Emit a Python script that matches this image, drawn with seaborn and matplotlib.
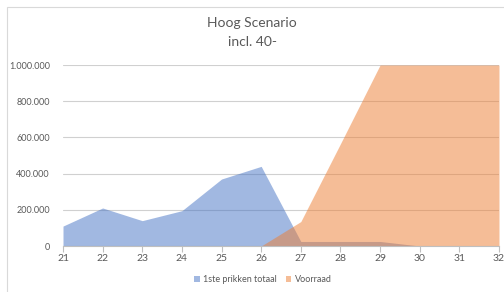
import matplotlib
matplotlib.use('Agg')
import matplotlib.pyplot as plt
import matplotlib.patches as mpatches
from matplotlib.ticker import FuncFormatter
import seaborn as sns
import pandas as pd

weeks = [21, 22, 23, 24, 25, 26, 27, 28, 29, 30, 31, 32]
eerste_prikken = [110000, 210000, 140000, 195000, 370000, 440000,
                  25000, 25000, 25000, 0, 0, 0]
voorraad = [None, None, None, None, None, 0,
            135000, 565000, 1000000, 1000000, 1000000, 1000000]

BLUE = '#4472C4'
ORANGE = '#ED7D31'
GREY = '#595959'


def dutch_thousands(v, _):
    return f'{int(v):,}'.replace(',', '.')


def main():
    df = pd.DataFrame({'week': weeks, '1ste prikken totaal': eerste_prikken,
                       'Voorraad': voorraad})
    sns.set_style('white')
    plt.rcParams['font.family'] = ['Lato', 'DejaVu Sans']

    fig = plt.figure(figsize=(5.04, 2.92), dpi=100)
    fig.patches.append(mpatches.Rectangle((7 / 504, -0.1), 1.2, 1 - 7 / 292 + 0.1,
                                          transform=fig.transFigure, fill=False,
                                          edgecolor='#d9d9d9', linewidth=0.8))
    ax = fig.add_axes([63 / 504, 46 / 292, 436 / 504, 181 / 292])

    blue = df.dropna(subset=['1ste prikken totaal'])
    ax.fill_between(blue['week'], blue['1ste prikken totaal'], color=BLUE,
                    alpha=0.5, linewidth=0, label='1ste prikken totaal')
    orange = df.dropna(subset=['Voorraad'])
    ax.fill_between(orange['week'], orange['Voorraad'].astype(float), color=ORANGE,
                    alpha=0.5, linewidth=0, label='Voorraad')

    ax.set_xlim(21, 32)
    ax.set_ylim(0, 1000000)
    ax.set_xticks(weeks)
    ax.set_yticks(range(0, 1000001, 200000))
    ax.yaxis.set_major_formatter(FuncFormatter(dutch_thousands))
    ax.grid(axis='y', color='#d0d0d0', linewidth=0.8)
    ax.set_axisbelow(True)
    for side in ['top', 'right', 'left']:
        ax.spines[side].set_visible(False)
    ax.spines['bottom'].set_color('#bfbfbf')
    ax.spines['bottom'].set_linewidth(0.8)
    ax.tick_params(axis='x', bottom=True, length=4, width=0.8, color='#bfbfbf',
                   labelsize=7.5, labelcolor=GREY, pad=2)
    ax.tick_params(axis='y', left=False, labelsize=6.5, labelcolor=GREY, pad=6)
    ax.set_xlabel('')
    ax.set_ylabel('')

    fig.text(0.5, 1 - 23 / 292, 'Hoog Scenario', ha='center', va='center',
             fontsize=10, color=GREY)
    fig.text(0.5, 1 - 42 / 292, 'incl. 40-', ha='center', va='center',
             fontsize=10, color=GREY)

    handles, labels = ax.get_legend_handles_labels()
    fig.legend(handles, labels, loc='center', bbox_to_anchor=(263 / 504, 1 - 280 / 292),
               ncol=2, frameon=False, fontsize=6.5, labelcolor=GREY,
               handlelength=0.6, handleheight=0.6, handletextpad=0.4,
               columnspacing=1.0)

    fig.savefig('out.png', dpi=100)


if __name__ == '__main__':
    main()
